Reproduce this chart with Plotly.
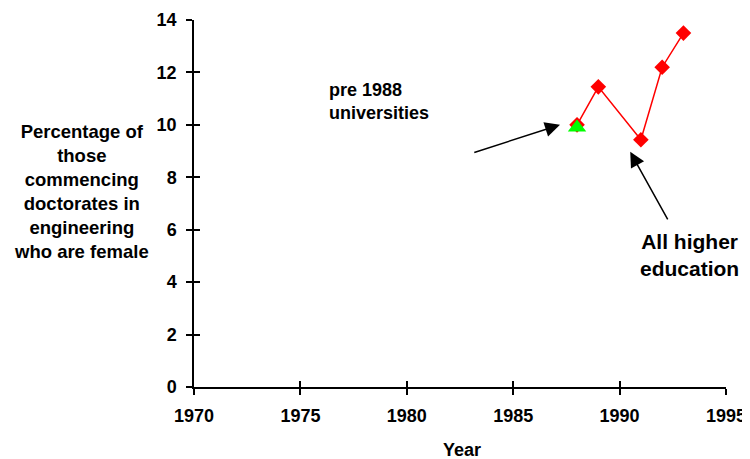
import plotly.graph_objects as go

years_all = [1988, 1989, 1991, 1992, 1993]
pct_all = [10.0, 11.45, 9.43, 12.2, 13.5]
years_pre = [1988]
pct_pre = [9.9]

x_ticks = [1970, 1975, 1980, 1985, 1990, 1995]
y_ticks = [0, 2, 4, 6, 8, 10, 12, 14]

FONT = "Liberation Sans, Arial, sans-serif"

fig = go.Figure()
fig.add_trace(go.Scatter(
    x=years_all, y=pct_all, mode="lines+markers",
    line=dict(color="#ff0000", width=1.5),
    marker=dict(symbol="diamond", size=12, color="#ff0000"),
    showlegend=False, cliponaxis=False))
fig.add_trace(go.Scatter(
    x=years_pre, y=pct_pre, mode="markers",
    marker=dict(symbol="triangle-up", size=16, color="#00ff00"),
    showlegend=False, cliponaxis=False))
# invisible trace to activate the overlay axes (cross ticks)
fig.add_trace(go.Scatter(x=[1970], y=[0], xaxis="x2", yaxis="y2", mode="markers",
                         marker=dict(opacity=0), showlegend=False, hoverinfo="skip"))

common = dict(showgrid=False, zeroline=False, automargin=False)
fig.update_layout(
    width=742, height=451,
    margin=dict(l=186, r=24, t=12, b=72),
    plot_bgcolor="white", paper_bgcolor="white",
    font=dict(family=FONT, color="black"),
    xaxis=dict(range=[1970, 1995], tickvals=x_ticks, **common,
               showline=True, linecolor="black", linewidth=1.5,
               ticks="outside", ticklen=6, tickwidth=1.5, tickcolor="black",
               ticklabelstandoff=6,
               tickfont=dict(size=18, family=FONT, weight="bold")),
    xaxis2=dict(range=[1970, 1995], tickvals=x_ticks, overlaying="x", side="bottom",
                **common, showline=False,
                ticks="inside", ticklen=6, tickwidth=1.5, tickcolor="black",
                showticklabels=False),
    yaxis=dict(range=[0, 14], tickvals=y_ticks, **common,
               showline=True, linecolor="black", linewidth=1.5,
               ticks="outside", ticklen=6, tickwidth=1.5, tickcolor="black",
               ticklabelstandoff=6,
               tickfont=dict(size=18, family=FONT, weight="bold")),
    yaxis2=dict(range=[0, 14], tickvals=y_ticks, overlaying="y", side="left",
                **common, showline=False,
                ticks="inside", ticklen=6, tickwidth=1.5, tickcolor="black",
                showticklabels=False),
)

annotations = [
    dict(text="<b>Percentage of<br>those<br>commencing<br>doctorates in<br>engineering<br>who are female</b>",
         xref="paper", yref="paper", x=-0.2124, y=0.533, xanchor="center", yanchor="middle",
         showarrow=False, font=dict(size=18.5, family=FONT), align="center"),
    dict(text="<b>Year</b>", xref="paper", yref="paper", x=0.504, y=-0.172,
         xanchor="center", yanchor="middle", showarrow=False, font=dict(size=18, family=FONT)),
    dict(text="<b>pre 1988<br>universities</b>", xref="x", yref="y", x=1976.25, y=10.9,
         xanchor="left", yanchor="middle", align="left", showarrow=False,
         font=dict(size=18, family=FONT)),
    dict(text="<b>All higher<br>education</b>", xref="x", yref="y", x=1993.3, y=5.04,
         xanchor="center", yanchor="middle", align="center", showarrow=False,
         font=dict(size=21, family=FONT)),
    dict(text="", xref="x", yref="y", x=1987.2, y=10.0, axref="x", ayref="y",
         ax=1983.1, ay=8.93, showarrow=True, arrowhead=2, arrowsize=2,
         arrowwidth=1.5, arrowcolor="black"),
    dict(text="", xref="x", yref="y", x=1990.5, y=8.97, axref="x", ayref="y",
         ax=1992.3, ay=6.34, showarrow=True, arrowhead=2, arrowsize=2,
         arrowwidth=1.5, arrowcolor="black"),
]
fig.update_layout(annotations=annotations)

fig.write_html("out.html")
